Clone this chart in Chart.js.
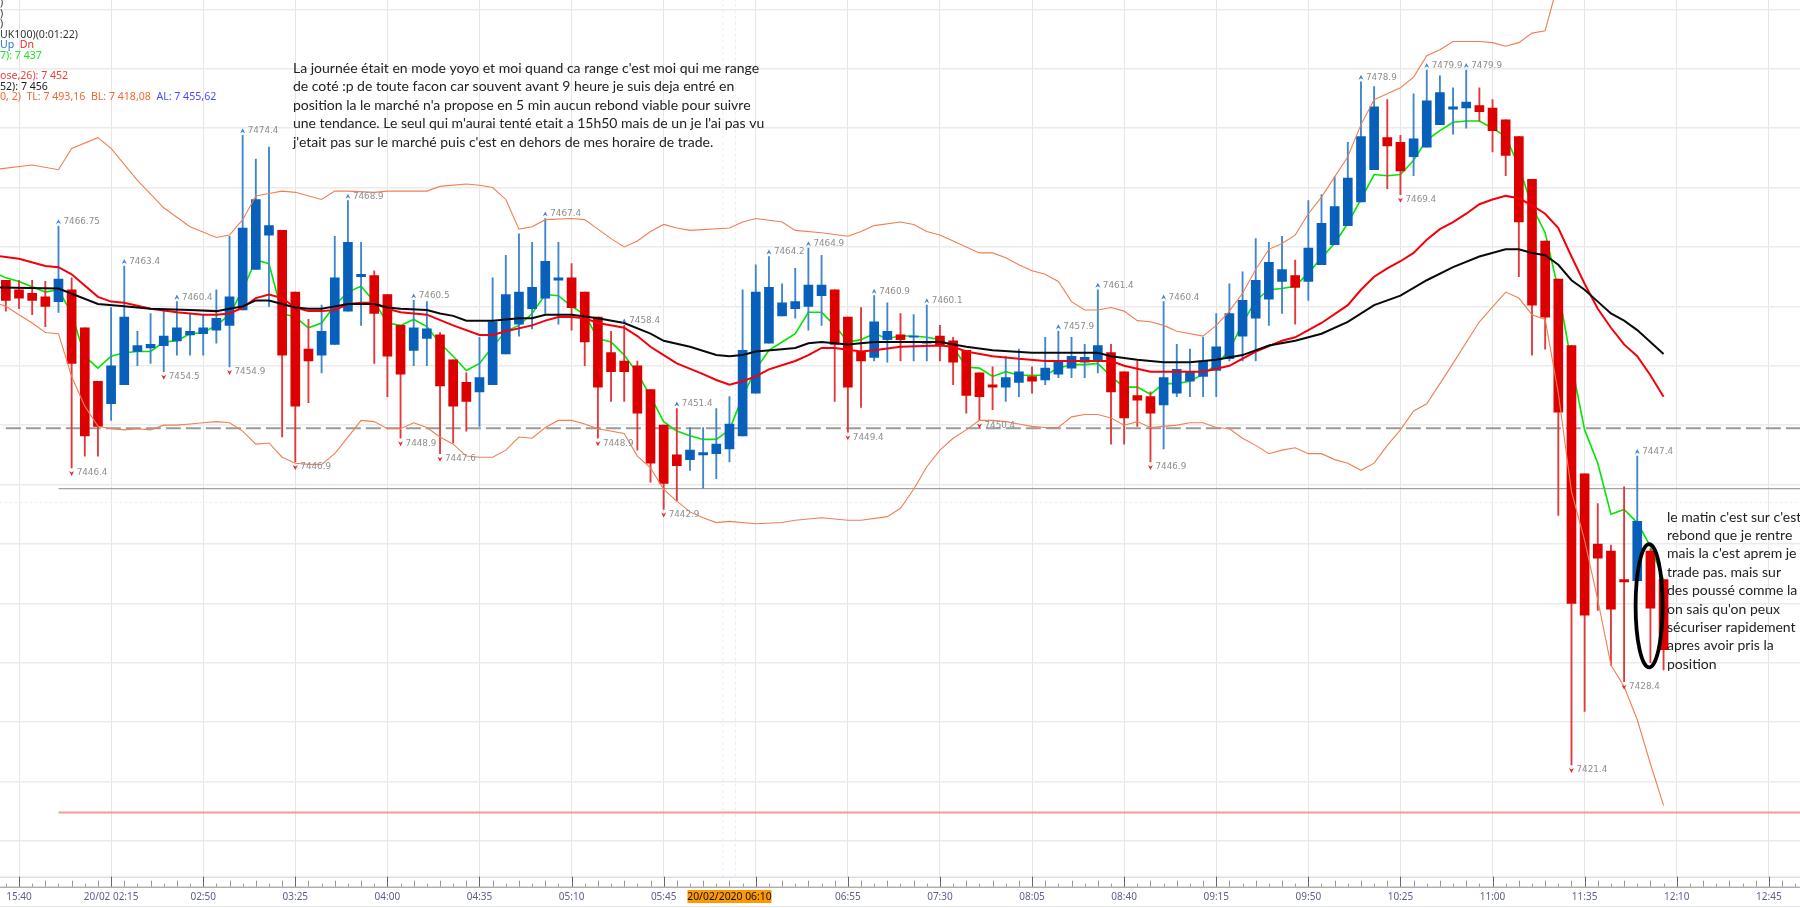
<!DOCTYPE html>
<html><head><meta charset="utf-8">
<style>html,body{margin:0;padding:0;background:#fff;overflow:hidden}canvas{display:block}</style>
<script src="https://cdn.jsdelivr.net/npm/chart.js@4/dist/chart.umd.min.js"></script>
</head><body><canvas id="c" width="1800" height="908"></canvas>
<script>
// k = candle index (5 minute candles)
const opens=[7462.2,7461.4,7461.1,7460.8,7460.4,7461.4,7458.2,7453.7,7451.8,7453.4,7456.2,7456.5,7456.7,7457.1,7457.6,7457.7,7458.0,7458.4,7459.7,7463.1,7466.0,7466.4,7461.2,7456.4,7455.9,7456.8,7459.6,7462.5,7462.6,7461.0,7458.4,7456.3,7457.3,7457.6,
7455.5,7453.6,7452.8,7453.4,7456.0,7458.5,7459.8,7460.7,7462.2,7462.4,7461.2,7459.1,7456.1,7455.4,7455.0,7453.0,7450.0,7447.5,7447.1,7447.5,7447.6,7448.0,7449.1,7452.7,7456.9,7459.2,7459.8,7460.0,7460.9,7461.4,7459.1,7456.2,7455.7,7457.2,7457.6,7457.4,7456.9,7457.5,7457.1,7456.3,7454.4,7453.4,7453.2,7453.6,7454.1,7453.8,7454.3,7454.8,7455.3,7455.5,7456.1,7454.5,7452.5,7452.4,7451.7,7452.7,7453.7,7454.1,7454.6,7455.6,7457.5,7459.0,7460.6,7462.1,7462.6,
7462.1,7463.5,7465.2,7466.8,7468.8,7471.5,7474.2,7473.8,7472.6,7473.4,7475.3,7476.6,7476.7,7476.9,7476.7,7475.7,7474.3,7470.7,7465.5,7462.3,7456.7,7445.9,7440.0,7439.4,7437.0,7436.9,7439.4,7437.0];
const highs=[7462.2,7462.2,7462.2,7462.1,7466.75,7462.4,7458.2,7453.7,7459.9,7463.4,7457.9,7459.4,7459.8,7460.4,7459.4,7459.3,7461.4,7465.9,7474.4,7472.4,7473.4,7466.4,7461.2,7458.9,7460.1,7465.9,7468.9,7465.4,7463.0,7461.0,7458.4,7460.5,7460.4,7457.8,
7455.5,7454.4,7457.4,7462.4,7464.3,7466.1,7465.4,7467.4,7465.4,7463.6,7461.2,7459.1,7457.9,7458.4,7455.4,7453.0,7450.0,7451.4,7449.8,7449.8,7451.4,7452.4,7461.4,7463.5,7464.2,7461.9,7463.2,7464.9,7464.3,7461.4,7459.1,7459.9,7460.9,7460.3,7459.4,7459.3,7460.1,7458.4,7457.4,7456.3,7454.4,7454.9,7455.8,7456.4,7454.9,7457.4,7457.9,7457.4,7456.8,7461.4,7456.8,7454.5,7455.4,7452.8,7460.4,7456.8,7456.4,7457.4,7459.4,7461.9,7462.9,7465.7,7465.4,7465.9,7463.9,
7468.9,7469.4,7470.9,7473.8,7478.9,7478.5,7477.4,7474.4,7477.9,7479.9,7479.4,7478.4,7479.9,7478.4,7477.4,7475.7,7474.3,7470.7,7465.5,7462.3,7456.7,7445.9,7443.4,7439.9,7444.8,7447.4,7439.6,7437.0];
const lows=[7459.6,7459.8,7459.3,7458.3,7459.5,7446.4,7447.4,7447.4,7450.4,7453.4,7455.0,7455.2,7454.5,7455.9,7455.9,7455.9,7456.9,7454.9,7459.7,7463.1,7460.0,7449.0,7446.9,7451.9,7454.4,7456.8,7459.6,7458.4,7455.2,7452.4,7448.9,7455.0,7455.0,7447.6,
7448.5,7449.5,7449.9,7453.4,7456.0,7457.5,7458.1,7459.4,7458.5,7458.0,7455.0,7448.9,7452.0,7452.0,7447.9,7445.2,7442.9,7443.6,7446.2,7444.7,7445.5,7446.9,7449.1,7452.7,7456.9,7459.2,7459.0,7458.0,7458.4,7452.0,7449.4,7451.5,7455.4,7455.3,7455.4,7455.4,7455.4,7455.4,7453.4,7451.0,7450.4,7451.3,7452.0,7452.4,7452.7,7453.4,7454.0,7454.0,7454.0,7454.4,7448.4,7448.4,7449.9,7446.9,7448.0,7452.4,7452.4,7452.4,7452.4,7455.4,7455.4,7455.4,7458.4,7459.4,7458.5,
7460.5,7463.5,7465.2,7466.8,7468.8,7471.5,7469.9,7469.4,7471.0,7473.4,7475.3,7474.5,7475.0,7475.6,7473.0,7471.0,7462.5,7455.9,7456.4,7442.4,7421.4,7425.9,7434.4,7429.8,7428.4,7436.9,7430.0,7429.4];
const closes=[7460.5,7460.7,7460.5,7460.0,7462.3,7455.2,7449.1,7449.9,7455.0,7459.1,7456.7,7456.8,7457.5,7458.2,7457.9,7458.2,7459.0,7460.8,7466.6,7469.0,7466.8,7455.9,7451.6,7455.4,7457.9,7462.4,7465.4,7462.7,7459.4,7455.8,7454.3,7458.2,7458.1,7453.3,
7451.6,7452.0,7454.0,7458.7,7461.0,7461.2,7461.6,7463.8,7462.4,7459.9,7457.0,7453.2,7454.5,7454.5,7451.0,7446.8,7445.1,7446.6,7447.9,7447.7,7448.4,7450.1,7456.3,7461.2,7461.6,7460.3,7460.4,7461.8,7461.8,7456.8,7453.2,7455.4,7458.7,7457.9,7457.2,7457.5,7457.0,7456.7,7455.3,7452.5,7452.4,7453.2,7454.0,7454.5,7453.7,7454.8,7455.4,7455.8,7455.7,7456.7,7452.8,7450.6,7452.1,7451.0,7454.0,7454.7,7454.5,7455.4,7456.6,7459.4,7460.5,7462.2,7463.7,7463.1,7461.6,
7464.9,7467.0,7468.4,7470.8,7474.3,7476.8,7473.5,7471.4,7474.1,7477.3,7478.0,7476.8,7477.2,7476.4,7474.8,7472.7,7467.1,7460.1,7459.1,7451.1,7435.0,7434.0,7438.8,7434.5,7436.8,7441.9,7434.6,7431.1];

const greenK=[-1,0,1,3,4,5,6,7,8,9,10,11,12,13,14,15,16,17,18,19,20,21,22,23,24,25,26,27,28,29,30,31,32,33,34,35,36,37,38,39,40,41,42,43,44,45,46,47,48,49,50,51,52,53,54,55,56,57,58,59,60,61,62,63,64,65,66,67,68,69,70,71,72,73,74,75,76,77,78,79,80,81,82,83,84,85,86,87,88,89,90,91,92,93,94,95,96,97,98,99,100,101,102,103,104,105,106,107,108,109,110,111,112,113,114,115,116,117,118,119,120,121,122,123,124,125,126];
const greenV=[7462.9,7462.4,7462.1,7461.2,7461.4,7459.4,7455.8,7454.8,7455.8,7456.1,7456.2,7456.2,7457.0,7457.1,7457.7,7457.8,7458.4,7459.3,7461.4,7463.9,7463.6,7459.4,7459.1,7458.2,7458.6,7460.1,7461.2,7461.7,7460.4,7458.6,7458.4,7458.9,7458.3,7456.9,7455.8,7454.6,7455.2,7456.6,7457.9,7458.4,7459.4,7461.0,7460.9,7460.0,7459.3,7457.3,7457.0,7455.9,7454.4,7452.4,7450.3,7449.5,7449.1,7448.8,7448.8,7449.6,7452.4,7454.7,7456.3,7457.0,7457.7,7459.5,7459.5,7458.4,7457.0,7457.2,7457.7,7457.3,7457.5,7457.5,7457.4,7457.2,7456.6,7454.9,7454.8,7454.1,7454.5,7454.2,7454.2,7454.2,7454.8,7455.1,7455.1,7455.2,7454.1,7453.2,7453.2,7452.6,7453.5,7453.5,7453.7,7454.3,7455.1,7456.3,7458.6,7460.5,7461.4,7461.5,7461.7,7462.8,7464.1,7465.3,7467.0,7469.0,7471.1,7471.0,7471.1,7472.3,7474.0,7474.8,7475.5,7475.6,7475.6,7475.0,7474.3,7471.8,7468.4,7466.2,7461.4,7455.2,7449.6,7446.8,7442.5,7442.9,7441.8,7439.8,7437.0];

const redK=[-1,1,3,4,5,7,8,9,11,13,15,16,17,18,19,20,21,22,23,24,25,26,27,28,29,30,32,34,36,37,38,40,41,42,43,44,45,47,48,49,50,51,53,54,55,56,57,58,60,61,62,63,65,66,68,71,72,73,75,77,79,83,84,85,87,90,91,93,95,97,98,100,102,103,104,105,106,107,108,109,110,111,112,113,114,115,116,117,118,119,120,121,122,123,124,125,126];
const redV=[7464.3,7464.0,7463.4,7463.3,7462.7,7460.8,7460.4,7460.3,7459.8,7459.5,7459.3,7459.3,7459.4,7459.9,7460.7,7461.0,7460.7,7459.9,7459.6,7459.6,7459.7,7460.2,7460.3,7460.3,7459.8,7459.5,7459.3,7458.4,7457.6,7457.6,7457.9,7458.4,7458.8,7459.1,7459.1,7459.0,7458.6,7458.2,7457.5,7456.6,7455.9,7455.2,7454.3,7453.8,7453.4,7453.7,7454.1,7454.7,7455.4,7455.9,7456.5,7456.5,7456.2,7456.3,7456.6,7456.7,7456.6,7456.2,7455.8,7455.6,7455.4,7455.4,7455.4,7455.0,7454.5,7454.5,7454.5,7455.0,7456.2,7457.1,7457.4,7458.6,7460.1,7461.4,7462.5,7463.2,7463.8,7464.5,7465.6,7466.5,7467.1,7467.8,7468.6,7469.0,7469.3,7469.1,7468.5,7467.8,7466.6,7464.2,7461.9,7459.8,7458.2,7456.8,7455.8,7454.2,7452.4];

const blackK=[-1,4,7,9,11,14,16,17,18,19,20,21,22,23,24,25,26,28,29,30,32,33,34,35,37,39,40,41,43,45,47,49,50,52,54,55,56,57,59,60,61,62,64,66,68,71,73,75,78,83,84,86,88,90,92,94,96,98,100,102,104,106,108,110,112,114,115,116,117,118,119,120,121,122,123,124,125,126];
const blackV=[7461.6,7461.5,7460.2,7460.0,7459.8,7459.7,7459.6,7459.8,7460.0,7460.5,7460.5,7460.2,7459.9,7459.8,7459.8,7460.0,7460.2,7460.2,7459.9,7459.8,7459.7,7459.4,7459.2,7458.8,7458.8,7459.0,7459.0,7459.3,7459.3,7459.0,7458.6,7457.7,7457.1,7456.6,7455.9,7455.8,7455.9,7456.2,7456.4,7456.5,7456.9,7457.0,7456.8,7457.0,7457.0,7457.0,7456.6,7456.3,7456.1,7456.1,7455.8,7455.5,7455.3,7455.3,7455.5,7455.9,7456.7,7457.1,7457.7,7458.7,7460.1,7460.9,7462.2,7463.3,7464.2,7464.8,7464.8,7464.5,7464.3,7463.5,7462.2,7461.4,7460.4,7459.4,7458.8,7458.0,7457.0,7456.0];

const upperK=[-1,2,4,5,7,8,10,12,14,16,17,18,19,20,21,22,24,25,26,28,29,32,33,35,36,37,38,39,40,41,43,44,45,46,47,48,49,50,51,52,55,56,57,59,60,62,64,65,66,68,69,70,71,72,74,75,76,77,78,79,80,81,82,83,84,85,86,87,88,89,91,92,93,94,95,96,97,98,99,100,101,102,103,104,105,106,107,108,109,110,112,113,114,115,116,117,118];
const upperV=[7471.5,7471.9,7471.5,7473.3,7474.2,7473.3,7470.6,7468.3,7466.7,7465.8,7466.0,7467.3,7469.3,7469.5,7469.7,7469.6,7469.0,7469.7,7469.7,7469.6,7469.7,7469.7,7470.1,7470.3,7470.2,7470.0,7469.0,7466.5,7466.7,7467.3,7467.4,7467.3,7466.5,7465.7,7465.0,7465.5,7466.3,7466.9,7466.6,7466.4,7466.6,7467.1,7467.4,7467.1,7466.4,7466.2,7465.9,7466.3,7466.8,7467.1,7466.9,7466.3,7466.0,7465.5,7464.5,7464.5,7464.1,7463.5,7463.0,7462.7,7462.1,7460.4,7459.7,7459.7,7459.9,7459.6,7458.8,7458.7,7458.4,7457.9,7457.5,7458.4,7459.6,7461.1,7463.1,7464.8,7465.3,7466.0,7467.8,7469.2,7470.9,7472.6,7475.3,7477.4,7477.9,7478.4,7479.3,7481.1,7481.6,7482.3,7482.3,7482.2,7481.9,7482.2,7483.0,7483.2,7487.3];

const lowerK=[-1,0,1,2,3,4,5,6,7,8,9,10,11,12,13,14,15,16,17,18,19,20,21,22,23,24,25,26,27,28,29,30,31,32,33,34,35,36,37,38,39,40,41,42,43,44,45,47,48,49,50,51,52,53,54,55,57,59,60,62,64,65,67,68,69,70,71,72,73,74,75,76,77,78,79,80,81,82,83,84,85,86,87,88,89,90,91,92,93,94,95,96,97,98,99,100,101,102,103,104,105,106,107,108,109,110,112,114,115,116,117,118,119,120,121,122,123,124,125,126];
const lowerV=[7460.4,7460.0,7459.3,7458.6,7457.8,7457.7,7454.1,7451.6,7449.9,7449.7,7449.6,7449.7,7449.6,7450.0,7450.0,7450.1,7450.2,7450.3,7450.2,7449.5,7448.4,7448.5,7447.3,7446.8,7446.7,7446.7,7447.6,7449.0,7450.4,7450.3,7449.7,7449.7,7450.2,7449.8,7449.0,7448.4,7447.4,7447.3,7447.3,7447.9,7449.0,7448.9,7449.8,7450.4,7450.4,7450.1,7449.7,7449.3,7447.4,7446.4,7444.6,7443.6,7442.7,7442.2,7441.8,7441.9,7441.7,7441.8,7442.0,7442.2,7442.0,7442.0,7442.3,7443.0,7444.6,7446.5,7447.9,7448.9,7449.6,7450.4,7450.4,7450.3,7450.1,7449.9,7449.8,7449.8,7450.7,7450.9,7450.9,7450.6,7450.0,7450.3,7449.8,7449.9,7450.0,7450.2,7450.2,7449.8,7449.7,7448.9,7448.3,7447.6,7447.9,7448.1,7447.6,7447.6,7447.1,7446.8,7446.2,7446.8,7448.3,7449.6,7451.2,7451.8,7453.5,7455.2,7458.7,7461.2,7460.7,7459.3,7458.9,7452.7,7444.4,7440.3,7435.3,7429.8,7428.0,7425.2,7421.5,7418.0];

const peakK=[4,9,13,18,26,31,41,47,51,58,61,66,70,80,83,88,103,108,111,124];
const peakV=['7466.75','7463.4','7460.4','7474.4','7468.9','7460.5','7467.4','7458.4','7451.4','7464.2','7464.9','7460.9','7460.1','7457.9','7461.4','7460.4','7478.9','7479.9','7479.9','7447.4'];
const troughK=[5,12,17,22,30,33,45,50,64,74,87,106,119,123];
const troughV=['7446.4','7454.5','7454.9','7446.9','7448.9','7447.6','7448.9','7442.9','7449.4','7450.4','7446.9','7469.4','7421.4','7428.4'];

const tickK=[1,8,15,22,29,36,43,50,57,64,71,78,85,92,99,106,113,120,127,134];
const tickText=['15:40','20/02 02:15','02:50','03:25','04:00','04:35','05:10','05:45','','06:55','07:30','08:05','08:40','09:15','09:50','10:25','11:00','11:35','12:10','12:45'];
const cursorK=55, cursorText='20/02/2020 06:10';
const gridValues=[7415,7420,7425,7430,7435,7440,7445,7450,7455,7460,7465,7470,7475,7480,7485];
const dashedLevel=7449.75, supportLevel=7444.65, pinkLevel=7417.4, dottedLevel=7443.5;
const dottedK=[54.5,55.45];
const xMin=-0.445,xMax=136.37,yMin=7411.99,yMax=7485.79;

const note1=["La journée était en mode yoyo et moi quand ca range c'est moi qui me range","de coté :p de toute facon car souvent avant 9 heure je suis deja entré en","position la le marché n'a propose en 5 min aucun rebond viable pour suivre","une tendance. Le seul qui m'aurai tenté etait a 15h50 mais de un je l'ai pas vu","j'etait pas sur le marché puis c'est en dehors de mes horaire de trade."];
const note2=["le matin c'est sur c'est","rebond que je rentre","mais la c'est aprem je","trade pas. mais sur","des poussé comme la","on sais qu'on peux","sécuriser rapidement","apres avoir pris la","position"];

const BLUE='#0860bb',RED='#dc0000',WB='#3e86cd',WR='#e2383a';
const up=i=>closes[i]>=opens[i];
const line=(ks,vs,color,width,order,extra)=>Object.assign({type:'line',data:ks.map((k,i)=>({x:k,y:vs[i]})),borderColor:color,borderWidth:width,pointRadius:0,tension:0,order,fill:false},extra||{});
const hline=(k0,v,color,width,order,extra)=>line([k0,xMax],[v,v],color,width,order,extra);

const overlay={id:'overlay',
 afterDatasetsDraw(ch){
  const c=ch.ctx,xs=ch.scales.x,ys=ch.scales.y;
  c.save();
  // high/low flags
  c.textBaseline='middle';c.textAlign='left';c.font='8.8px "DejaVu Sans"';
  peakK.forEach((k,i)=>{const x=xs.getPixelForValue(k),y=ys.getPixelForValue(+peakV[i]);
   c.fillStyle='#3b82d8';c.beginPath();c.moveTo(x-2.5,y-2);c.lineTo(x,y-7);c.lineTo(x+2.5,y-2);c.lineTo(x,y-3.6);c.closePath();c.fill();
   c.fillStyle='#8e8e8e';c.fillText(peakV[i],x+5,y-4.4);});
  troughK.forEach((k,i)=>{const x=xs.getPixelForValue(k),y=ys.getPixelForValue(+troughV[i]);
   c.fillStyle='#e5282c';c.beginPath();c.moveTo(x-2.5,y+3);c.lineTo(x,y+8);c.lineTo(x+2.5,y+3);c.lineTo(x,y+4.6);c.closePath();c.fill();
   c.fillStyle='#8e8e8e';c.fillText(troughV[i],x+5,y+5.2);});
  // ellipse
  c.strokeStyle='#000';c.lineWidth=3.8;c.beginPath();
  c.ellipse(xs.getPixelForValue(124.9),ys.getPixelForValue(7434.8),13.5,61.7,0,0,Math.PI*2);c.stroke();
  // notes
  c.fillStyle='#222';c.font='14px Lato';c.textAlign='left';
  note1.forEach((t,i)=>c.fillText(t,293,68.5+i*18.4));
  note2.forEach((t,i)=>c.fillText(t,1667,517+i*18.4));
  // legend
  c.font='10.6px "Noto Sans"';
  const L=(parts,y)=>{let x=0;parts.forEach(([t,col])=>{c.fillStyle=col;c.fillText(t,x,y);x+=c.measureText(t).width;});};
  L([[')','#333']],3);L([[')','#333']],13.5);L([[')','#333']],24);
  L([['UK100)(0:01:22)','#333']],34.5);
  L([['Up','#2f74d0'],['  ','#000'],['Dn','#e5282c']],45);
  L([['7): 7 437','#22e022']],55.5);
  L([['ose,26): 7 452','#f04040']],76);
  L([['52): 7 456','#222']],86.5);
  L([['0, 2)  TL: 7 493,16  BL: 7 418,08  ','#f06a30'],['AL: 7 455,62','#4a4aff']],97);
  // time ruler
  const top=ch.chartArea.bottom,bot=top+10;
  c.strokeStyle='#c6cfdf';c.lineWidth=1;c.beginPath();c.moveTo(0,top+.5);c.lineTo(1800,top+.5);c.stroke();
  c.strokeStyle='#8a8a8a';c.beginPath();c.moveTo(0,bot+.5);c.lineTo(1800,bot+.5);c.stroke();
  c.strokeStyle='#e3e6ee';c.beginPath();c.moveTo(0,906.5);c.lineTo(1800,906.5);c.stroke();
  for(let k=0;k<=136;k++){
   const x=Math.round(xs.getPixelForValue(k))+.5;const major=(k-1)%7===0;
   c.strokeStyle=major?'#666':'#999';c.beginPath();
   if(major){c.moveTo(x,top);c.lineTo(x,bot);}else{const h=(k%2)?6:3;c.moveTo(x,bot);c.lineTo(x,bot-h);}
   c.stroke();
  }
  // cursor label
  const cx=xs.getPixelForValue(cursorK);
  c.fillStyle='#ff9900';c.fillRect(cx-42,890,84,13);
  c.fillStyle='#111';c.textAlign='center';c.font='10.4px "Noto Sans"';c.fillText(cursorText,cx,896.8);
  c.restore();
 }};

new Chart(document.getElementById('c'),{
 data:{datasets:[
  line(greenK,greenV,'#00e600',1.6,6),
  {type:'bar',data:opens.map((o,i)=>({x:i,y:[lows[i],highs[i]]})),grouped:false,barThickness:1.2,backgroundColor:opens.map((o,i)=>up(i)?WB:WR),order:5},
  {type:'bar',data:opens.map((o,i)=>({x:i,y:[o,closes[i]]})),grouped:false,barThickness:9,backgroundColor:opens.map((o,i)=>up(i)?BLUE:RED),order:4},
  line(upperK,upperV,'#ef7f52',1.1,3),
  line(lowerK,lowerV,'#ef7f52',1.1,3),
  line(redK,redV,'#f5000a',2,2),
  line(blackK,blackV,'#0a0a0a',2,1),
  hline(0,dashedLevel,'#9a9a9a',2,7,{borderDash:[15,5]}),
  hline(4,supportLevel,'#8c8c8c',1,7),
  hline(4,pinkLevel,'#fb9797',2,7),
  hline(xMin,dottedLevel,'#eaeaea',1,8,{borderDash:[2,3]}),
  line([dottedK[0],dottedK[0]],[yMin,yMax],'#ececec',1,8,{borderDash:[3,3]}),
  line([dottedK[1],dottedK[1]],[yMin,yMax],'#ececec',1,8,{borderDash:[3,3]})
 ]},
 options:{
  responsive:false,animation:false,devicePixelRatio:1,
  layout:{padding:0},
  plugins:{legend:{display:false},tooltip:{enabled:false}},
  scales:{
   x:{type:'linear',min:xMin,max:xMax,offset:false,
    afterBuildTicks:s=>{s.ticks=tickK.map(k=>({value:k}));},
    afterFit:s=>{s.height=31.3;s.paddingLeft=0;s.paddingRight=0;},
    border:{display:false},
    grid:{color:'#e6e6e6',lineWidth:1,drawTicks:false,offset:false},
    ticks:{autoSkip:false,maxRotation:0,minRotation:0,padding:14,color:'#5e5e8e',font:{size:10,family:'"Noto Sans"'},
     callback:v=>{const i=tickK.indexOf(v);return i<0?'':tickText[i];}}},
   y:{type:'linear',min:yMin,max:yMax,
    afterBuildTicks:s=>{s.ticks=gridValues.map(v=>({value:v}));},
    afterFit:s=>{s.width=0;s.paddingTop=0;s.paddingBottom=0;},
    border:{display:false},
    grid:{color:'#ebebeb',lineWidth:1.5,drawTicks:false},
    ticks:{display:false}}
  }
 },
 plugins:[overlay]
});
</script></body></html>
